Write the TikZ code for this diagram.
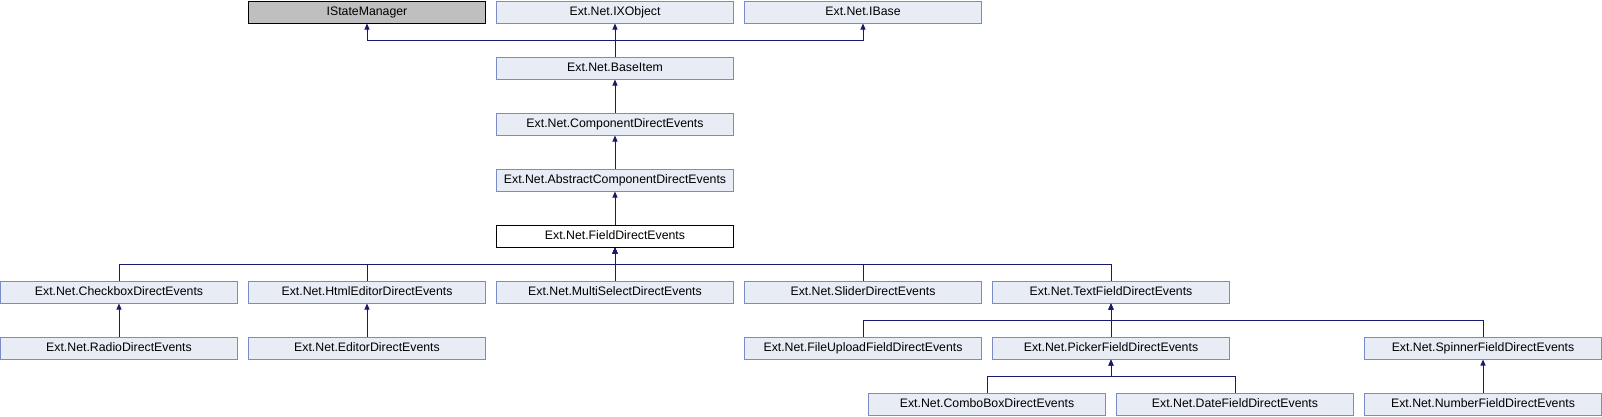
\documentclass[tikz,border=0pt]{standalone}
\usepackage{fontspec}
\setmainfont{Liberation Sans}
\usetikzlibrary{arrows.meta}
\definecolor{boxfill}{HTML}{E8ECF5}
\definecolor{boxline}{HTML}{7A8CC8}
\definecolor{edgecol}{HTML}{191970}
\definecolor{greyfill}{HTML}{BFBFBF}
\tikzset{
  cls/.style={draw=boxline, fill=boxfill, line width=1pt, minimum width=237pt, minimum height=22pt, inner sep=0pt, text height=9pt, text depth=2.5pt, font=\fontsize{12.3}{13}\selectfont, text=black},
  ext/.style={cls, draw=black, fill=greyfill},
  cur/.style={cls, draw=black, fill=white},
  edge/.style={draw=edgecol, line width=1pt, -{Triangle[length=6pt,width=5pt]}},
}
\begin{document}
\begin{tikzpicture}[x=1pt,y=-1pt]
\useasboundingbox (0,0) rectangle (1602,416);
% row 0
\node[ext] (ism) at (367,12) {IStateManager};
\node[cls] (ixo) at (615,12) {Ext.Net.IXObject};
\node[cls] (ibase) at (863,12) {Ext.Net.IBase};
% rows 1-4
\node[cls] (base) at (615,68) {Ext.Net.BaseItem};
\node[cls] (comp) at (615,124) {Ext.Net.ComponentDirectEvents};
\node[cls] (abs) at (615,180) {Ext.Net.AbstractComponentDirectEvents};
\node[cur] (field) at (615,236) {Ext.Net.FieldDirectEvents};
% row 5
\node[cls] (chk) at (119,292) {Ext.Net.CheckboxDirectEvents};
\node[cls] (html) at (367,292) {Ext.Net.HtmlEditorDirectEvents};
\node[cls] (multi) at (615,292) {Ext.Net.MultiSelectDirectEvents};
\node[cls] (slider) at (863,292) {Ext.Net.SliderDirectEvents};
\node[cls] (text) at (1111,292) {Ext.Net.TextFieldDirectEvents};
% row 6
\node[cls] (radio) at (119,348) {Ext.Net.RadioDirectEvents};
\node[cls] (editor) at (367,348) {Ext.Net.EditorDirectEvents};
\node[cls] (upload) at (863,348) {Ext.Net.FileUploadFieldDirectEvents};
\node[cls] (picker) at (1111,348) {Ext.Net.PickerFieldDirectEvents};
\node[cls] (spinner) at (1483,348) {Ext.Net.SpinnerFieldDirectEvents};
% row 7
\node[cls] (combo) at (987,404) {Ext.Net.ComboBoxDirectEvents};
\node[cls] (date) at (1235,404) {Ext.Net.DateFieldDirectEvents};
\node[cls] (number) at (1483,404) {Ext.Net.NumberFieldDirectEvents};
% bus levels
\coordinate (b1) at (0,40);
\coordinate (b5) at (0,264);
\coordinate (b6) at (0,320);
\coordinate (b7) at (0,376);
% edges
\draw[edge] (base.north) -- (base.north |- b1) -| (ism.south);
\draw[edge] (base.north) -- (ixo.south);
\draw[edge] (base.north) -- (base.north |- b1) -| (ibase.south);
\draw[edge] (comp.north) -- (base.south);
\draw[edge] (abs.north) -- (comp.south);
\draw[edge] (field.north) -- (abs.south);
\draw[edge] (chk.north) -- (chk.north |- b5) -| (field.south);
\draw[edge] (html.north) -- (html.north |- b5) -| (field.south);
\draw[edge] (multi.north) -- (field.south);
\draw[edge] (slider.north) -- (slider.north |- b5) -| (field.south);
\draw[edge] (text.north) -- (text.north |- b5) -| (field.south);
\draw[edge] (radio.north) -- (chk.south);
\draw[edge] (editor.north) -- (html.south);
\draw[edge] (upload.north) -- (upload.north |- b6) -| (text.south);
\draw[edge] (picker.north) -- (text.south);
\draw[edge] (spinner.north) -- (spinner.north |- b6) -| (text.south);
\draw[edge] (combo.north) -- (combo.north |- b7) -| (picker.south);
\draw[edge] (date.north) -- (date.north |- b7) -| (picker.south);
\draw[edge] (number.north) -- (spinner.south);
\end{tikzpicture}
\end{document}
